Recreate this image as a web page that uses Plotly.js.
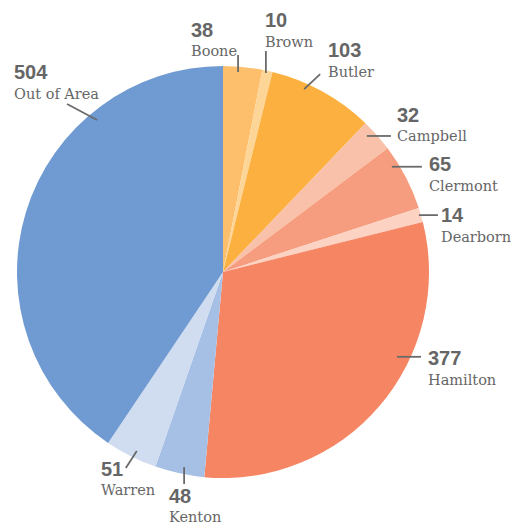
<!DOCTYPE html>
<html>
<head>
<meta charset="utf-8">
<script src="https://cdn.plot.ly/plotly-3.0.1.min.js"></script>
<style>html,body{margin:0;padding:0;background:#fff;}#chart{width:511px;height:523px;}</style>
</head>
<body>
<div id="chart"></div>
<script>
// ---- data ----
const labels = ['Boone','Brown','Butler','Campbell','Clermont','Dearborn','Hamilton','Kenton','Warren','Out of Area'];
const values = [38, 10, 103, 32, 65, 14, 377, 48, 51, 504];
const colors = ['#fdbf6b','#fdd697','#fbb040','#f9c1a9','#f69d7f','#fcd2c2','#f58563','#a6bfe5','#d0dcf0','#6f9bd2'];

// ---- label layout styles (offsets in px) ----
const angShift = [-1.2, -0.3, -4.9, -1.8, -4.4, -0.1, -14.6, -0.9, -0.8, 33.4];
const tipR = [200.6, 203.6, 200, 198, 199, 204, 193.6, 198.9, 198.6, 197.4];
const lineVec = [[0,-17],[0,-22],[16,-15],[24,0],[30,0],[19,0],[24,0],[0,17],[-11,17],[-30,-16]];
const labelOff = [[-47,-25],[-1,-30.5],[8,-24],[6,-21],[7,-2.5],[3,0],[6.5,1.5],[-15,11.5],[-25,1],[-53,-31.5]];
const nameGap = 21.5;

const W = 511, H = 523;
const cx = 223, cy = 272, R = 206;
const px = x => x / W;
const py = y => 1 - y / H;

const total = values.reduce((a, b) => a + b, 0);
const shapes = [], annotations = [];
let cum = 0;
const txtColor = '#666666';
values.forEach((v, i) => {
  const mid = (cum + v / 2) / total * 360;
  cum += v;
  const a = (mid + angShift[i]) * Math.PI / 180;
  const tx = cx + tipR[i] * Math.sin(a);
  const ty = cy - tipR[i] * Math.cos(a);
  const ex = tx + lineVec[i][0], ey = ty + lineVec[i][1];
  shapes.push({type: 'line', xref: 'paper', yref: 'paper', x0: px(tx), y0: py(ty), x1: px(ex), y1: py(ey),
    line: {color: '#6a6a6a', width: 1.8}});
  const nx = ex + labelOff[i][0] - 2, ny = ey + labelOff[i][1];
  annotations.push({xref: 'paper', yref: 'paper', x: px(nx), y: py(ny), xanchor: 'left', yanchor: 'middle',
    showarrow: false, text: '<b>' + v + '</b>',
    font: {family: 'Liberation Sans, Arial, sans-serif', size: 20, color: txtColor}});
  annotations.push({xref: 'paper', yref: 'paper', x: px(nx), y: py(ny + nameGap), xanchor: 'left', yanchor: 'middle',
    showarrow: false, text: labels[i],
    font: {family: 'DejaVu Serif, serif', size: 14.5, color: txtColor}});
});

const trace = {
  type: 'pie', labels: labels, values: values, sort: false, direction: 'clockwise', rotation: 0,
  marker: {colors: colors, line: {width: 0}}, textinfo: 'none', hoverinfo: 'label+value',
  domain: {x: [(cx - R) / W, (cx + R) / W], y: [1 - (cy + R) / H, 1 - (cy - R) / H]}
};
const layout = {
  width: W, height: H, margin: {l: 0, r: 0, t: 0, b: 0}, showlegend: false,
  paper_bgcolor: '#ffffff', shapes: shapes, annotations: annotations
};
Plotly.newPlot('chart', [trace], layout, {displayModeBar: false, staticPlot: true});
</script>
</body>
</html>
